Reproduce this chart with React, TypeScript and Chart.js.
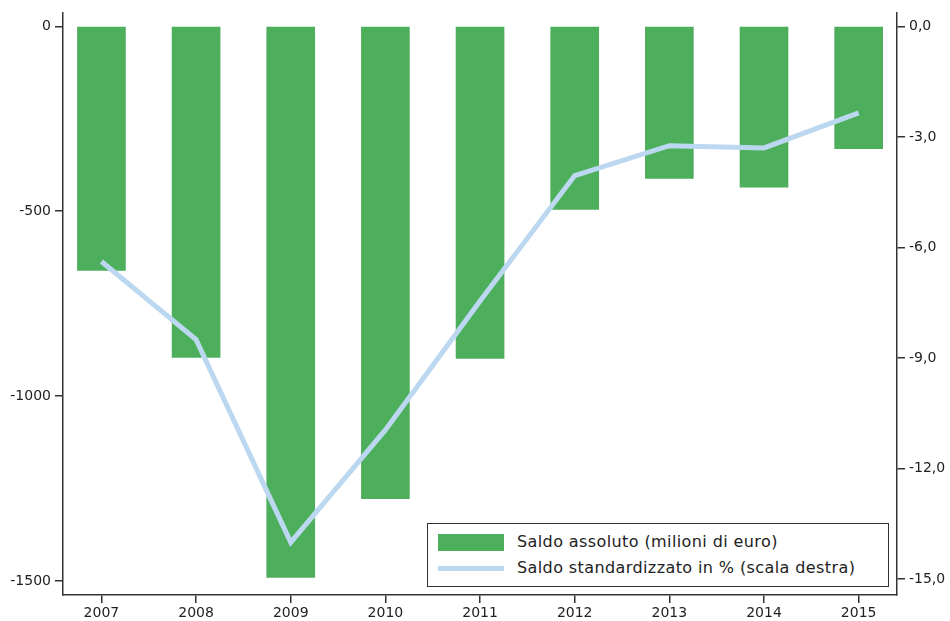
import { useEffect, useRef } from "react";
import { Chart, registerables } from "chart.js";

Chart.register(...registerables);

const YEARS = [2007, 2008, 2009, 2010, 2011, 2012, 2013, 2014, 2015];
const SALDO_ASSOLUTO = [-660, -895, -1490, -1277, -898, -495, -411, -435, -331];
const SALDO_PCT = [-6.38, -8.5, -14.0, -10.95, -7.45, -4.05, -3.24, -3.3, -2.35];
const LEFT_TICKS = [0, -500, -1000, -1500];
const RIGHT_TICKS = [0, -3, -6, -9, -12, -15];

const GREEN = "#4daf5b";
const BLUE = "#bcd8f1";
const AXIS = "#333333";
const FONT = "'DejaVu Sans', sans-serif";

export default function App() {
  const canvasRef = useRef<HTMLCanvasElement>(null);

  useEffect(() => {
    document.body.style.margin = "0";
    if (!canvasRef.current) return;

    const axisFont = { family: FONT, size: 14 };
    const grid = { drawOnChartArea: false, drawTicks: true, tickLength: 8, color: AXIS, lineWidth: 1.5, offset: false };
    const border = { display: true, color: AXIS, width: 1.5 };

    const chart = new Chart(canvasRef.current, {
      type: "bar",
      data: {
        datasets: [
          {
            type: "line",
            label: "Saldo standardizzato in % (scala destra)",
            data: YEARS.map((x, i) => ({ x, y: SALDO_PCT[i] })),
            yAxisID: "y1",
            borderColor: BLUE,
            borderWidth: 5,
            pointRadius: 0,
            tension: 0,
            order: 0,
          },
          {
            type: "bar",
            label: "Saldo assoluto (milioni di euro)",
            data: YEARS.map((x, i) => ({ x, y: SALDO_ASSOLUTO[i] })),
            yAxisID: "y",
            backgroundColor: GREEN,
            barThickness: 48,
            order: 1,
          },
        ],
      },
      options: {
        animation: false,
        responsive: true,
        maintainAspectRatio: false,
        layout: { padding: { top: 8, left: 0, right: 0, bottom: 0 } },
        plugins: { legend: { display: false }, tooltip: { enabled: false } },
        scales: {
          x: {
            type: "linear",
            min: 2006.594,
            max: 2015.405,
            offset: false,
            grid,
            border,
            ticks: { font: axisFont, color: "#222", padding: 2, callback: (v) => String(v) },
            afterBuildTicks: (s) => { s.ticks = YEARS.map((value) => ({ value })); },
            afterFit: (s) => { s.height = 26; },
          },
          y: {
            position: "left",
            min: -1537.7,
            max: 37.7,
            grid,
            border,
            ticks: { font: axisFont, color: "#222", padding: 4, callback: (v) => String(v) },
            afterBuildTicks: (s) => { s.ticks = LEFT_TICKS.map((value) => ({ value })); },
            afterFit: (s) => { s.width = 63; },
          },
          y1: {
            position: "right",
            min: -15.43,
            max: 0.378,
            grid,
            border,
            ticks: {
              font: axisFont,
              color: "#222",
              padding: 4,
              callback: (v) => Number(v).toFixed(1).replace(".", ","),
            },
            afterBuildTicks: (s) => { s.ticks = RIGHT_TICKS.map((value) => ({ value })); },
            afterFit: (s) => { s.width = 53; },
          },
        },
      },
    });

    return () => chart.destroy();
  }, []);

  return (
    <div style={{ position: "relative", width: 950, height: 621, background: "#fff", fontFamily: FONT }}>
      <canvas ref={canvasRef} />
      {/* Legend box inside the plot */}
      <div
        style={{
          position: "absolute",
          left: 427,
          top: 523,
          width: 462,
          height: 64,
          boxSizing: "border-box",
          border: `1.5px solid ${AXIS}`,
          background: "#fff",
          fontSize: 16,
          letterSpacing: "0.4px",
          color: "#222",
        }}
      >
        <div style={{ position: "absolute", left: 10, top: 10, width: 66, height: 17, background: GREEN }} />
        <div style={{ position: "absolute", left: 89, top: 8, lineHeight: "20px" }}>
          Saldo assoluto (milioni di euro)
        </div>
        <div style={{ position: "absolute", left: 10, top: 42, width: 66, height: 5, background: BLUE }} />
        <div style={{ position: "absolute", left: 89, top: 34, lineHeight: "20px" }}>
          Saldo standardizzato in % (scala destra)
        </div>
      </div>
    </div>
  );
}
